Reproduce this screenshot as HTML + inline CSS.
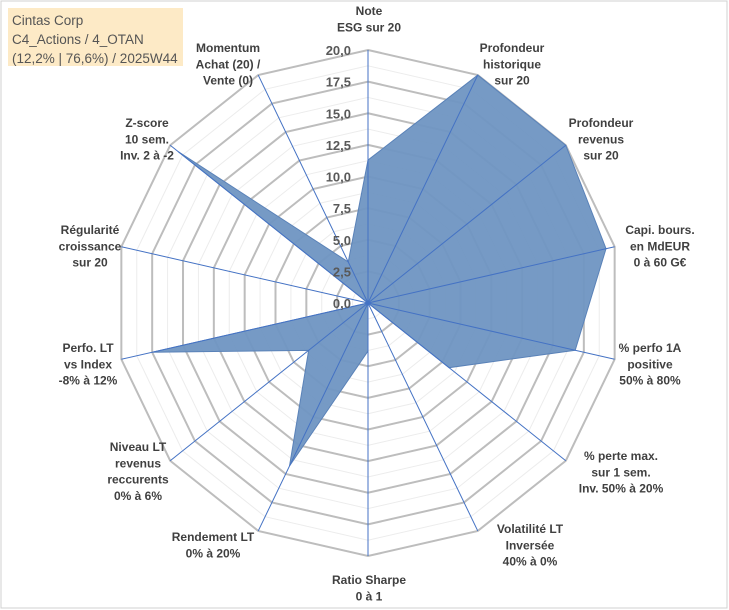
<!DOCTYPE html>
<html><head><meta charset="utf-8"><style>
html,body{margin:0;padding:0;background:#fff;}
svg{display:block;font-family:"Liberation Sans",sans-serif;}
</style></head><body>
<svg id="chart" width="729" height="610" viewBox="0 0 729 610">
<rect x="1" y="1" width="726" height="607" fill="#fff" stroke="#d0d0d0"/>
<g id="grid"></g>
<g id="series"></g>
<g id="ticks"></g>
<g id="labels"></g>
<rect x="8" y="8" width="175" height="58" fill="#fdeac6"/>
<text x="12" y="25" font-size="13.5" fill="#555">Cintas Corp</text>
<text x="12" y="44" font-size="13.5" fill="#555">C4_Actions / 4_OTAN</text>
<text x="12" y="63" font-size="13.5" fill="#555">(12,2% | 76,6%) / 2025W44</text>
</svg>
<script>
const categories = [
 ["Note","ESG sur 20"],
 ["Profondeur","historique","sur 20"],
 ["Profondeur","revenus","sur 20"],
 ["Capi. bours.","en MdEUR","0 à 60 G€"],
 ["% perfo 1A","positive","50% à 80%"],
 ["% perte max.","sur 1 sem.","Inv. 50% à 20%"],
 ["Volatilité LT","Inversée","40% à 0%"],
 ["Ratio Sharpe","0 à 1"],
 ["Rendement LT","0% à 20%"],
 ["Niveau LT","revenus","reccurents","0% à 6%"],
 ["Perfo. LT","vs Index","-8% à 12%"],
 ["Régularité","croissance","sur 20"],
 ["Z-score","10 sem.","Inv. 2 à -2"],
 ["Momentum","Achat (20) /","Vente (0)"]
];
const values = [11.3, 20, 20, 19.3, 16.8, 8.2, 0, 3.8, 14.3, 6.0, 17.5, 0, 19.2, 3.6];
const tickValues = [0, 2.5, 5, 7.5, 10, 12.5, 15, 17.5, 20];
const tickLabels = ["0,0","2,5","5,0","7,5","10,0","12,5","15,0","17,5","20,0"];
const maxValue = 20;

const NS="http://www.w3.org/2000/svg";
const cx=368, cy=303, R=253;
const n=categories.length;
function ang(i){return 2*Math.PI*i/n;}
function rScale(v){return v/maxValue*R;}
function pt(i,v){const a=ang(i),r=rScale(v);return [cx+r*Math.sin(a), cy-r*Math.cos(a)];}
function mk(tag,parent){const e=document.createElementNS(NS,tag);document.getElementById(parent).appendChild(e);return e;}

for(let k=1;k<=16;k++){
  const v=k*1.25;
  const pts=[];for(let i=0;i<n;i++)pts.push(pt(i,v).join(","));
  const p=mk("polygon","grid");
  p.setAttribute("points",pts.join(" "));
  p.setAttribute("fill","none");
  const major=k%2===0;
  p.setAttribute("stroke",major?"#bdbdbd":"#ececec");
  p.setAttribute("stroke-width",major?"2":"1");
  
  
}
const sp=[];for(let i=0;i<n;i++)sp.push(pt(i,values[i]).join(","));
const poly=mk("polygon","series");
poly.setAttribute("points",sp.join(" "));
poly.setAttribute("fill","#6f95c2");
poly.setAttribute("fill-opacity","0.95");
poly.setAttribute("stroke","#5a82b8");
poly.setAttribute("stroke-width","1");


for(let i=0;i<n;i++){
  const [x,y]=pt(i,maxValue);
  const l=mk("line","series");
  l.setAttribute("x1",cx);l.setAttribute("y1",cy);l.setAttribute("x2",x);l.setAttribute("y2",y);
  l.setAttribute("stroke","#4472c4");l.setAttribute("stroke-width","1");
  
  
}
tickValues.forEach((v,j)=>{
  const t=mk("text","ticks");
  t.setAttribute("x",cx-17);t.setAttribute("y",cy-rScale(v)+5);
  t.setAttribute("text-anchor","end");t.setAttribute("font-size","13");
  t.setAttribute("font-weight","bold");t.setAttribute("fill","#595959");
  t.textContent=tickLabels[j];
  
  
});
const labelPos=[[369,15],[512,52],[601,127],[660,234],[650,352],[621,460],[530,533],[369,584],[213,541],[138,451],[88,352],[90,234],[147,127],[228,52]];
categories.forEach((lines,i)=>{
  const t=mk("text","labels");
  t.setAttribute("text-anchor","middle");t.setAttribute("font-size","12");
  t.setAttribute("font-weight","bold");t.setAttribute("fill","#404040");
  lines.forEach((s,k)=>{
    const ts=document.createElementNS(NS,"tspan");
    ts.setAttribute("x",labelPos[i][0]);ts.setAttribute("y",labelPos[i][1]+k*16.3);
    ts.textContent=s;t.appendChild(ts);
  });
  
  
});
</script>
</body></html>
